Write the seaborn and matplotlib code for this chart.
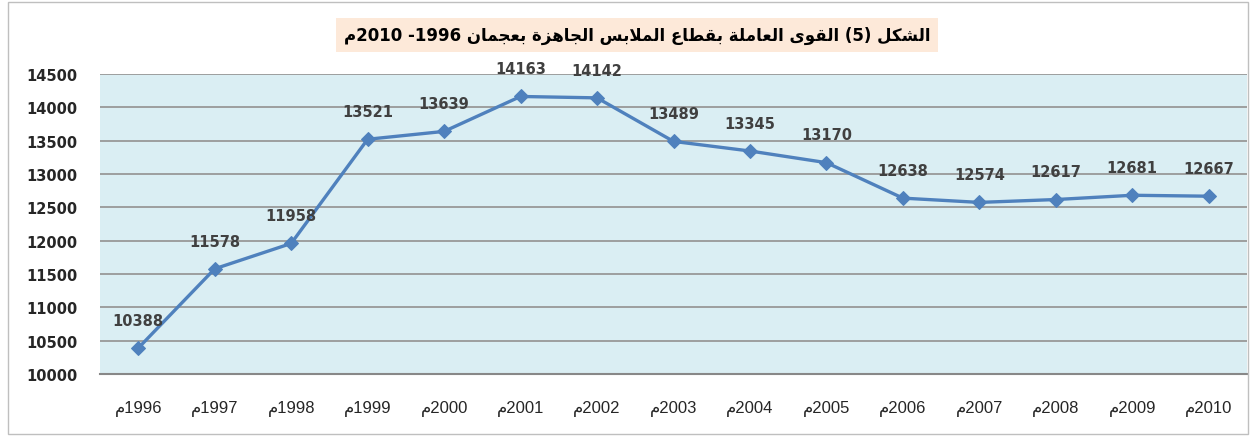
import numpy as np
import pandas as pd
import matplotlib.pyplot as plt
import seaborn as sns
from matplotlib.patches import Rectangle

sns.set_style('white')
plt.rcParams['font.family'] = ['Liberation Sans', 'DejaVu Sans']

# data
years = ['1996', '1997', '1998', '1999', '2000', '2001', '2002', '2003',
         '2004', '2005', '2006', '2007', '2008', '2009', '2010']
workers = [10388, 11578, 11958, 13521, 13639, 14163, 14142, 13489,
           13345, 13170, 12638, 12574, 12617, 12681, 12667]
title = 'الشكل (5) القوى العاملة بقطاع الملابس الجاهزة بعجمان 1996- 2010م'
year_suffix = 'م'

'''matplotlib does no arabic shaping, so we pick the presentation forms ourselves'''
# letter: (isolated, final, initial, medial)
FORMS = {
    'ا': ('\ufe8d', '\ufe8e', None, None),
    'ب': ('\ufe8f', '\ufe90', '\ufe91', '\ufe92'),
    'ة': ('\ufe93', '\ufe94', None, None),
    'ج': ('\ufe9d', '\ufe9e', '\ufe9f', '\ufea0'),
    'ز': ('\ufeaf', '\ufeb0', None, None),
    'س': ('\ufeb1', '\ufeb2', '\ufeb3', '\ufeb4'),
    'ش': ('\ufeb5', '\ufeb6', '\ufeb7', '\ufeb8'),
    'ط': ('\ufec1', '\ufec2', '\ufec3', '\ufec4'),
    'ع': ('\ufec9', '\ufeca', '\ufecb', '\ufecc'),
    'ق': ('\ufed5', '\ufed6', '\ufed7', '\ufed8'),
    'ك': ('\ufed9', '\ufeda', '\ufedb', '\ufedc'),
    'ل': ('\ufedd', '\ufede', '\ufedf', '\ufee0'),
    'م': ('\ufee1', '\ufee2', '\ufee3', '\ufee4'),
    'ن': ('\ufee5', '\ufee6', '\ufee7', '\ufee8'),
    'ه': ('\ufee9', '\ufeea', '\ufeeb', '\ufeec'),
    'و': ('\ufeed', '\ufeee', None, None),
    'ى': ('\ufeef', '\ufef0', None, None),
}


def shape(s):
    out = []
    i = 0
    while i < len(s):
        c = s[i]
        if c not in FORMS:
            out.append(c)
            i += 1
            continue
        prev = s[i - 1] if i > 0 else ''
        join_prev = prev in FORMS and FORMS[prev][2] is not None
        if c == 'ل' and i + 1 < len(s) and s[i + 1] == 'ا':
            out.append('\ufefc' if join_prev else '\ufefb')
            i += 2
            continue
        nxt = s[i + 1] if i + 1 < len(s) else ''
        join_next = FORMS[c][2] is not None and nxt in FORMS
        iso, fin, ini, med = FORMS[c]
        if join_prev and join_next:
            out.append(med)
        elif join_prev:
            out.append(fin)
        elif join_next:
            out.append(ini)
        else:
            out.append(iso)
        i += 1
    return ''.join(out)


def visual(s):
    r = shape(s)[::-1]
    res, num = '', ''
    for c in r:
        if c.isdigit():
            num += c
        else:
            res += num[::-1] + c
            num = ''
    res += num[::-1]
    return res.translate(str.maketrans('()', ')('))


fig = plt.figure(figsize=(12.52, 4.39), dpi=100)
ax = fig.add_axes([100 / 1252, 1 - 375 / 439, 1147 / 1252, 300 / 439])
ax.set_facecolor('#DAEEF3')

pos = np.arange(len(years))
sns.lineplot(x=pos, y=workers, ax=ax, color='#4F81BD', linewidth=2.4,
             marker='D', markersize=7, markeredgecolor='#4F81BD')

for x, y in zip(pos, workers):
    ax.annotate(str(y), (x, y), xytext=(0, 20), textcoords='offset points',
                ha='center', va='center', fontsize=10.5, fontweight='bold',
                color='#404040', family='DejaVu Sans')

ax.set_xlim(-0.5, len(years) - 0.5)
ax.set_ylim(10000, 14500)
ax.set_yticks(range(10000, 14501, 500))
ax.set_yticklabels([str(v) for v in range(10000, 14501, 500)],
                   fontsize=10.5, fontweight='bold', family='DejaVu Sans')
ax.set_xticks(pos)
ax.set_xticklabels([visual(y + year_suffix) for y in years], fontsize=12)
ax.tick_params(axis='x', length=0, pad=19)
ax.tick_params(axis='y', length=0, pad=16)
ax.grid(axis='y', color='#989898', linewidth=1.3)
ax.set_axisbelow(True)
for side in ['left', 'right', 'top']:
    ax.spines[side].set_visible(False)
ax.spines['bottom'].set_color('#888888')
ax.spines['bottom'].set_linewidth(1.5)

# outer frame
fig.patches.append(Rectangle((8 / 1252, 4 / 439), 1240 / 1252, 432 / 439,
                             transform=fig.transFigure, fill=False,
                             edgecolor='#BFBFBF', linewidth=1))

fig.text(637 / 1252, 1 - 36 / 439, visual(title), ha='center', va='center',
         fontsize=12, fontweight='bold', color='black', family=['DejaVu Sans'],
         bbox=dict(boxstyle='square,pad=0.45', facecolor='#FDE9D9',
                   edgecolor='none'))

plt.savefig('out.png', dpi=100)
